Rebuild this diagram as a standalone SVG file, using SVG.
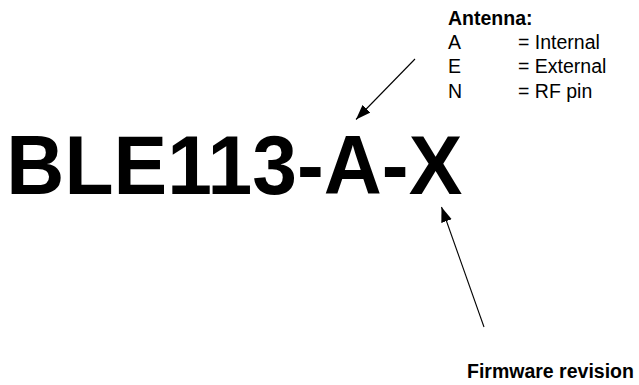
<svg xmlns="http://www.w3.org/2000/svg" width="639" height="385" viewBox="0 0 639 385">
<style>
  .t { font-family: "Liberation Sans", Arial, sans-serif; fill: #000; }
  .b { font-weight: bold; }
  .s { font-size: 19.5px; }
  .conn { stroke: #000; stroke-width: 1.1; fill: none; }
</style>
<defs>
  <marker id="arr" markerUnits="userSpaceOnUse" markerWidth="16" markerHeight="12" refX="15" refY="5.5" orient="auto">
    <path d="M0,0 L15,5.5 L0,11 z" fill="#000"/>
  </marker>
</defs>
<rect width="639" height="385" fill="#fff"/>
<g id="part-number">
  <text class="t b" x="6.3" y="194" font-size="83" textLength="456" lengthAdjust="spacingAndGlyphs">BLE113-A-X</text>
</g>
<g id="antenna-legend">
  <text class="t b s" x="448" y="24.5">Antenna:</text>
  <text class="t s" x="448" y="48.8">A</text>
  <text class="t s" x="518" y="48.8">= Internal</text>
  <text class="t s" x="448" y="73.2">E</text>
  <text class="t s" x="518" y="73.2">= External</text>
  <text class="t s" x="448" y="97.5">N</text>
  <text class="t s" x="518" y="97.5">= RF pin</text>
</g>
<g id="firmware-label">
  <text class="t b s" x="467" y="378">Firmware revision</text>
</g>
<g id="connectors">
  <line class="conn" x1="415" y1="59" x2="356" y2="119.5" marker-end="url(#arr)"/>
  <line class="conn" x1="484" y1="327" x2="441.5" y2="207" marker-end="url(#arr)"/>
</g>
</svg>
